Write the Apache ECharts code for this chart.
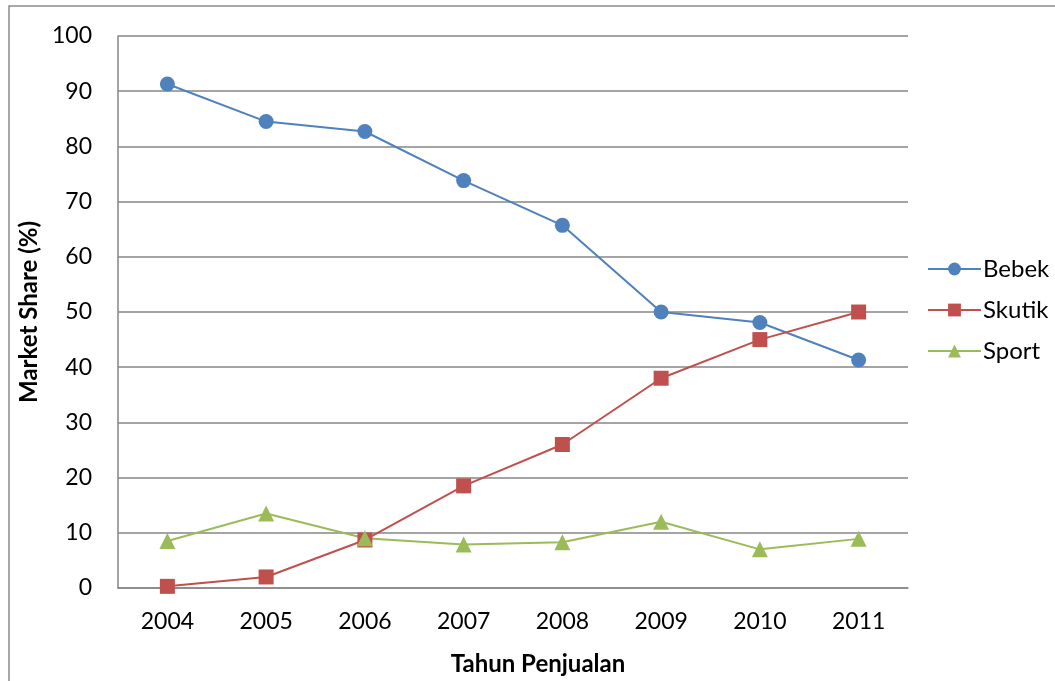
<!DOCTYPE html>
<html>
<head>
<meta charset="utf-8">
<script src="https://cdn.jsdelivr.net/npm/echarts@6/dist/echarts.min.js"></script>
<style>
  html, body { margin: 0; padding: 0; background: #fff; }
  #chart { width: 1055px; height: 681px; }
</style>
</head>
<body>
<div id="chart"></div>
<script>
var years = ['2004', '2005', '2006', '2007', '2008', '2009', '2010', '2011'];
var bebek = [91.3, 84.5, 82.7, 73.8, 65.7, 50.0, 48.1, 41.3];
var skutik = [0.3, 2.0, 8.7, 18.5, 26.0, 38.0, 45.0, 50.0];
var sport = [8.5, 13.5, 9.0, 7.9, 8.3, 12.0, 7.0, 8.9];

var font = 'Lato, "Open Sans", sans-serif';
var chart = echarts.init(document.getElementById('chart'));

function line(name, data, color, symbol, size) {
  return {
    name: name,
    type: 'line',
    data: data,
    symbol: symbol,
    symbolSize: size,
    lineStyle: { color: color, width: 2 },
    itemStyle: { color: color },
    animation: false
  };
}

chart.setOption({
  backgroundColor: '#fff',
  textStyle: { fontFamily: font },
  grid: { left: 118, right: 147, top: 36, bottom: 93 },
  legend: {
    orient: 'vertical',
    left: 922,
    top: 252,
    itemWidth: 53,
    itemHeight: 16,
    itemGap: 17,
    textStyle: { fontSize: 24, color: '#000', fontFamily: font, padding: [0, 0, 0, -3] },
    data: ['Bebek', 'Skutik', 'Sport']
  },
  xAxis: {
    type: 'category',
    data: years,
    boundaryGap: true,
    axisLine: { lineStyle: { color: '#868686', width: 1.5 } },
    axisTick: { show: false },
    axisLabel: { fontSize: 23, color: '#000', margin: 22 }
  },
  yAxis: {
    type: 'value',
    min: 0,
    max: 100,
    interval: 10,
    name: 'Market Share (%)',
    nameLocation: 'middle',
    nameGap: 73,
    nameTextStyle: { fontSize: 24, fontWeight: 'bold', color: '#000' },
    axisLine: { show: true, lineStyle: { color: '#868686', width: 1.5 } },
    axisTick: { show: false },
    axisLabel: { fontSize: 23, color: '#000', margin: 26 },
    splitLine: { lineStyle: { color: '#868686', width: 1.5 } }
  },
  graphic: [
    {
      type: 'rect',
      shape: { x: 9, y: 6, width: 1100, height: 720 },
      style: { fill: 'none', stroke: '#8c8c8c', lineWidth: 1.5 },
      silent: true
    },
    {
      type: 'text',
      x: 538,
      y: 664,
      style: {
        text: 'Tahun Penjualan',
        fontSize: 24,
        fontWeight: 'bold',
        fill: '#000',
        fontFamily: font,
        align: 'center',
        verticalAlign: 'middle'
      }
    }
  ],
  series: [
    line('Bebek', bebek, '#4F81BD', 'circle', 15),
    line('Skutik', skutik, '#C0504D', 'rect', 15),
    line('Sport', sport, '#9BBB59', 'triangle', 16)
  ]
});
</script>
</body>
</html>
